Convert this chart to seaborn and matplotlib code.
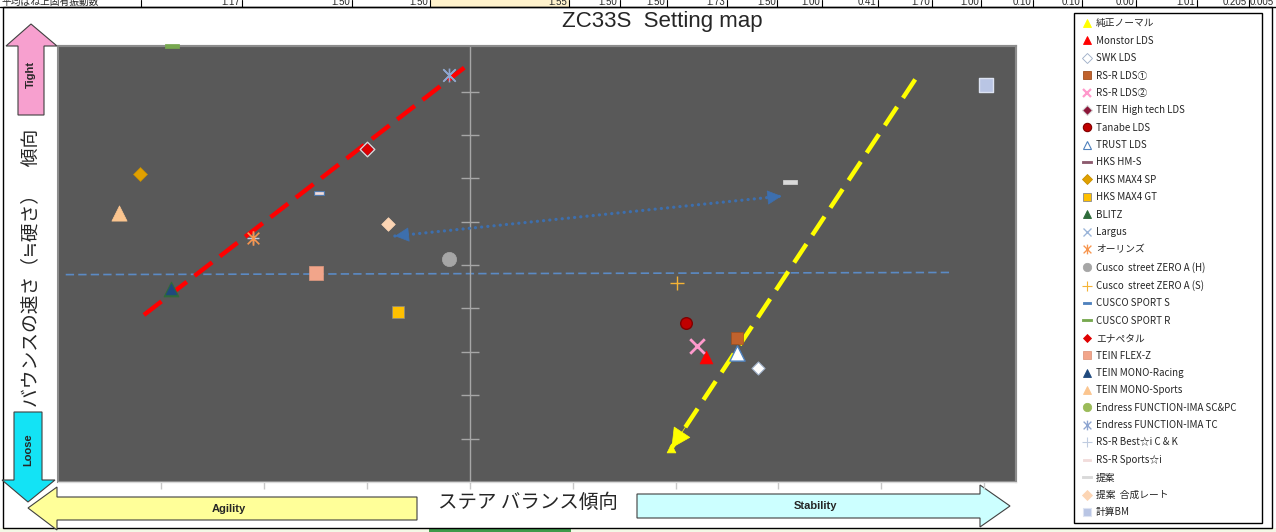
import numpy as np
import matplotlib
matplotlib.use("Agg")
import matplotlib.pyplot as plt
import seaborn as sns
from matplotlib.lines import Line2D
from matplotlib.patches import Polygon, Rectangle
from matplotlib.path import Path

# ---------------- data ----------------
series_names = [
    "純正ノーマル", "Monstor LDS", "SWK LDS", "RS-R LDS①", "RS-R LDS②",
    "TEIN  High tech LDS", "Tanabe LDS", "TRUST LDS", "HKS HM-S", "HKS MAX4 SP",
    "HKS MAX4 GT", "BLITZ", "Largus", "オーリンズ", "Cusco  street ZERO A (H)",
    "Cusco  street ZERO A (S)", "CUSCO SPORT S", "CUSCO SPORT R", "エナペタル", "TEIN FLEX-Z",
    "TEIN MONO-Racing", "TEIN MONO-Sports", "Endress FUNCTION-IMA SC&PC", "Endress FUNCTION-IMA TC",
    "RS-R Best☆i C & K", "RS-R Sports☆i", "提案", "提案  合成レート", "計算BM",
]
steer_balance = [
    1.96, 2.30, 2.80, 2.60, 2.21,
    -1.00, 2.10, 2.60, np.nan, -3.21,
    -0.70, -2.91, -0.20, -2.11, -0.20,
    2.01, -1.47, -2.90, -1.00, -1.50,
    -2.91, -3.41, np.nan, -0.20,
    -2.11, -1.47, 3.11, -0.80, 5.02,
]
bounce_speed = [
    0.78, 2.89, 2.63, 3.32, 3.13,
    7.67, 3.67, 2.97, np.nan, 7.10,
    3.91, 4.46, 9.38, 5.62, 5.15,
    4.58, 6.67, 10.05, 7.67, 4.81,
    4.46, 6.19, np.nan, 9.38,
    5.62, 6.67, 6.92, 5.94, 9.16,
]

agility_trend_x = [-3.17, -0.055]
agility_trend_y = [3.85, 9.55]
stability_trend_x = [4.33, 1.96]
stability_trend_y = [9.28, 0.78]
reference_x = [-3.93, 4.67]
reference_y = [4.78, 4.83]
shift_x = [-0.73, 3.03]
shift_y = [5.67, 6.59]

x_ticks = [-3, -2, -1, 0, 1, 2, 3, 4, 5]
y_ticks = [1, 2, 3, 4, 5, 6, 7, 8, 9]

top_row_label = "平均ばね上固有振動数"
top_row_values = ["1.17", "1.50", "1.50", "1.55", "1.50", "1.50", "1.73", "1.50", "1.00",
                  "0.41", "1.70", "1.00", "0.10", "0.10", "0.00", "1.01", "0.205", "0.005"]

# ---------------- styles ----------------
DASH = [(-1, -0.3), (1, -0.3), (1, 0.3), (-1, 0.3), (-1, -0.3)]
AST = Path([(-1, -1), (1, 1), (-1, 1), (1, -1), (0, -1.25), (0, 1.25)],
           [Path.MOVETO, Path.LINETO] * 3)

# marker, size, face, edge, linewidth, zorder, legend markersize
style = {
    "純正ノーマル": ("^", 40, "#ffff00", "#ffff00", 0.5, 3, 6),
    "Monstor LDS": ("^", 85, "#ff0000", "#ff0000", 0.5, 5, 6),
    "SWK LDS": ("D", 44, "#ffffff", "#9fb0c8", 0.8, 5, 5),
    "RS-R LDS①": ("s", 65, "#c0622d", "#a0501f", 0.5, 5, 6),
    "RS-R LDS②": ("x", 110, "#ff99cc", "#ff99cc", 2.0, 5, 6),
    "TEIN  High tech LDS": ("D", 55, "#8b1538", "#d8d8d8", 1.0, 5, 5),
    "Tanabe LDS": ("o", 70, "#c00000", "#800000", 1.0, 5, 6),
    "TRUST LDS": ("^", 120, "#ffffff", "#4f81bd", 1.0, 5, 6),
    "HKS HM-S": (DASH, 60, "#8c5a6e", "#8c5a6e", 0.5, 5, 7),
    "HKS MAX4 SP": ("D", 50, "#e0a000", "#c89000", 0.5, 5, 5),
    "HKS MAX4 GT": ("s", 80, "#ffc000", "#8a8a8a", 0.5, 5, 6),
    "BLITZ": ("^", 110, "#2e6b3a", "#2e6b3a", 0.8, 5, 6),
    "Largus": ("x", 80, "#9ab4d8", "#9ab4d8", 1.2, 5, 6),
    "オーリンズ": (AST, 110, "#f7964f", "#f7964f", 1.2, 5, 7),
    "Cusco  street ZERO A (H)": ("o", 105, "#a6a6a6", "#a6a6a6", 0.5, 5, 6),
    "Cusco  street ZERO A (S)": ("+", 90, "#f5b335", "#f5b335", 1.0, 5, 7),
    "CUSCO SPORT S": (DASH, 60, "#4f81bd", "#4f81bd", 0.5, 5, 6),
    "CUSCO SPORT R": (DASH, 110, "#77a84f", "#77a84f", 0.5, 5, 7),
    "エナペタル": ("D", 28, "#e00000", "#e00000", 0.5, 6, 4),
    "TEIN FLEX-Z": ("s", 105, "#f2a58a", "#e09a80", 0.5, 5, 6),
    "TEIN MONO-Racing": ("^", 60, "#1f497d", "#1f497d", 0.5, 6, 6),
    "TEIN MONO-Sports": ("^", 120, "#fbc58f", "#fbc58f", 0.5, 5, 6),
    "Endress FUNCTION-IMA SC&PC": ("o", 70, "#9bbb59", "#9bbb59", 0.5, 5, 6),
    "Endress FUNCTION-IMA TC": (AST, 100, "#8ea5d0", "#8ea5d0", 1.2, 6, 7),
    "RS-R Best☆i C & K": ("+", 80, "#c0cce0", "#c0cce0", 1.0, 4, 7),
    "RS-R Sports☆i": (DASH, 35, "#f2dcdb", "#f2dcdb", 0.5, 6, 6),
    "提案": (DASH, 110, "#d9d9d9", "#d9d9d9", 0.5, 5, 7),
    "提案  合成レート": ("D", 48, "#fcd5b4", "#fcd5b4", 0.5, 5, 5),
    "計算BM": ("s", 105, "#b9c5e4", "#dde3f2", 1.0, 5, 6),
}

W, H = 1276, 532
sns.set_style("white")
plt.rcParams["font.family"] = ["Noto Sans CJK JP", "DejaVu Sans"]

fig = plt.figure(figsize=(W / 100, H / 100), dpi=100)
fig.patch.set_facecolor("white")

# decoration layer in pixel coordinates
deco = fig.add_axes([0, 0, 1, 1], zorder=-5)
deco.set_xlim(0, W)
deco.set_ylim(H, 0)
deco.axis("off")

# main plot area
ax = fig.add_axes([57.5 / W, 1 - 482 / H, (1016 - 57.5) / W, (482 - 46) / H])
ax.set_facecolor("#595959")
ax.set_xlim(-4.01, 5.31)
ax.set_ylim(0, 10.05)
ax.spines["left"].set_position(("data", 0))
ax.spines["left"].set_color("#a6a6a6")
ax.spines["left"].set_linewidth(1.0)
ax.spines["bottom"].set_color("#d9d9d9")
ax.spines["top"].set_color("#8c8c8c")
ax.spines["right"].set_color("#8c8c8c")
ax.spines["top"].set_linewidth(1.5)
ax.spines["right"].set_linewidth(1.5)
ax.patch.set_edgecolor("#8c8c8c")
ax.patch.set_linewidth(1.5)
ax.set_xticks(x_ticks)
ax.set_yticks(y_ticks)
ax.tick_params(axis="y", direction="inout", length=13, width=1, color="#a6a6a6",
               labelleft=False, left=True)
ax.tick_params(axis="x", direction="out", length=5, width=1, color="#c8c8c8",
               labelbottom=False, bottom=True)

# lines
sns.lineplot(x=reference_x, y=reference_y, ax=ax, color="#5b8ac4", lw=1.2,
             linestyle=(0, (5, 2.5)), sort=False, zorder=2)
sns.lineplot(x=agility_trend_x, y=agility_trend_y, ax=ax, color="#ff0000", lw=3.2,
             linestyle=(0, (5, 2.2)), sort=False, zorder=3)
sns.lineplot(x=stability_trend_x, y=stability_trend_y, ax=ax, color="#ffff00", lw=3.2,
             linestyle=(0, (5, 2.4)), sort=False, zorder=3)
sns.lineplot(x=shift_x, y=shift_y, ax=ax, color="#3d6fae", lw=2.3,
             linestyle=(0, (0.05, 1.9)), dash_capstyle="round", sort=False, zorder=3)


def head(ax, xs, ys, color, scale, lw, frac=0.06):
    tip = (xs[-1], ys[-1])
    back = (xs[-1] - frac * (xs[-1] - xs[0]), ys[-1] - frac * (ys[-1] - ys[0]))
    ax.annotate("", xy=tip, xytext=back,
                arrowprops=dict(arrowstyle="-|>,head_length=0.55,head_width=0.28",
                                color=color, lw=lw, mutation_scale=scale,
                                shrinkA=0, shrinkB=0), zorder=4)


head(ax, stability_trend_x, stability_trend_y, "#ffff00", 24, 0.5)
head(ax, shift_x, shift_y, "#3d6fae", 17, 0.5, 0.03)
head(ax, shift_x[::-1], shift_y[::-1], "#3d6fae", 17, 0.5, 0.03)

# markers
handles = []
for name, xv, yv in zip(series_names, steer_balance, bounce_speed):
    mk, s, fc, ec, lw, zo, lms = style[name]
    if not (np.isnan(xv) or np.isnan(yv)):
        sns.scatterplot(x=[xv], y=[yv], ax=ax, marker=mk, s=s, color=fc,
                        edgecolor=ec, linewidth=lw, legend=False, zorder=zo,
                        clip_on=False)
    handles.append(Line2D([0], [0], marker=mk, linestyle="None", markersize=lms,
                          markerfacecolor=fc, markeredgecolor=ec,
                          markeredgewidth=max(lw * 0.8, 0.6)))

ax.set_xlabel("")
ax.set_ylabel("")

leg = fig.legend(handles, series_names, loc="upper left",
                 bbox_to_anchor=(1074 / W, 1 - 13 / H, (1262 - 1074) / W, 0),
                 mode="expand", frameon=True, fancybox=False, framealpha=1,
                 edgecolor="black", borderpad=0.55, labelspacing=0.76,
                 handlelength=1.6, handletextpad=0.1, borderaxespad=0,
                 prop={"family": ["Noto Sans CJK JP", "DejaVu Sans"], "size": 7})
leg.get_frame().set_linewidth(1.0)

# ---------------- decorations (pixel coords) ----------------
# spreadsheet fragments at top and bottom
deco.add_patch(Rectangle((430, 0), 139, 6.5, facecolor="#fff2cc", edgecolor="none"))
deco.plot([0, W], [6.5, 6.5], color="black", lw=1)
for xb in [141, 242, 352, 430, 569, 620, 667, 727, 777, 822, 878, 932, 981, 1033,
           1082, 1136, 1197, 1249]:
    deco.plot([xb, xb], [0, 6.5], color="black", lw=0.8)
deco.text(2, 5, top_row_label, ha="left", va="baseline", fontsize=7)
for xt, tv in zip([240, 350, 428, 567, 617, 665, 725, 776, 820, 876, 930, 979, 1031,
                   1080, 1134, 1195, 1247, 1274], top_row_values):
    deco.text(xt, 5, tv, ha="right", va="baseline", fontsize=7,
              family=["Liberation Sans", "DejaVu Sans"])
deco.add_patch(Rectangle((0, 527.5), W, 5, facecolor="#f3f8e6", edgecolor="none"))
deco.add_patch(Rectangle((429, 528), 142, 5, facecolor="#3f9a4a", edgecolor="none"))
deco.add_patch(Rectangle((3, 7), 1269, 520.5, facecolor="none", edgecolor="black", lw=1))

# title and axis titles
deco.text(662, 22, "ZC33S  Setting map", ha="center", va="center", fontsize=16,
          family=["Liberation Sans", "DejaVu Sans"])
deco.text(528, 502, "ステア バランス傾向", ha="center", va="center", fontsize=14)
deco.text(31, 268, "バウンスの速さ（≒硬さ）　傾向", ha="center", va="center",
          fontsize=13.5, rotation=90)

# direction arrows
arrow_kw = dict(edgecolor="#404040", lw=0.8, closed=True)
deco.add_patch(Polygon([(31, 24), (57, 46), (44, 46), (44, 115), (18, 115), (18, 46), (6, 46)],
                       facecolor="#f7a0cf", **arrow_kw))
deco.add_patch(Polygon([(14, 412), (42, 412), (42, 480), (55, 480), (28, 502), (2, 480), (14, 480)],
                       facecolor="#13e3f5", **arrow_kw))
deco.add_patch(Polygon([(28, 508), (57, 487), (57, 497), (417, 497), (417, 520), (57, 520), (57, 530)],
                       facecolor="#ffff99", **arrow_kw))
deco.add_patch(Polygon([(637, 494), (980, 494), (980, 485), (1010, 506), (980, 527), (980, 518), (637, 518)],
                       facecolor="#ccffff", **arrow_kw))
bold = dict(fontsize=8, fontweight="bold", family=["Liberation Sans", "DejaVu Sans"],
            ha="center", va="center")
deco.text(31, 74, "Tight", rotation=90, **bold)
deco.text(28, 450, "Loose", rotation=90, **bold)
deco.text(229, 509, "Agility", **bold)
deco.text(815, 506, "Stability", **bold)

fig.savefig("out.png", dpi=100, facecolor="white")
